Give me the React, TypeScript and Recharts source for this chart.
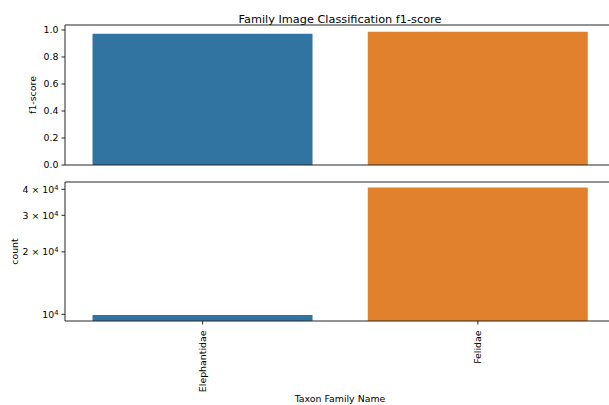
import React from 'react';
import { BarChart, Bar, XAxis, YAxis, Cell, Label, ReferenceLine } from 'recharts';

// values
const families = ['Elephantidae', 'Felidae'];
const f1Scores = [0.973, 0.987];
const counts = [9930, 40800];
const f1Ticks = [0, 0.2, 0.4, 0.6, 0.8, 1.0];
const countTicks = [10000, 20000, 30000, 40000];
const barColors = ['#3274a1', '#e1812c'];

const FONT = '"DejaVu Sans", sans-serif';
const INK = '#000';
const SPINE = '#262626';
const TICK_FS = 9.4;
const F1_MAX = 1.037;
const COUNT_DOMAIN = [9287, 43400];

const f1Data = families.map((name, i) => ({ name, value: f1Scores[i] }));
const countData = families.map((name, i) => ({ name, value: counts[i] }));

// vertical axis title, centred on the plot height
const yTitle = (text: string, x: number) => (props: any) => {
    const vb = props.viewBox || {};
    const cy = (vb.y || 0) + (vb.height || 0) / 2;
    return (
        <text x={x} y={cy} transform={`rotate(-90, ${x}, ${cy})`} textAnchor="middle" dy="0.35em"
            fontSize={TICK_FS} fill={INK} fontFamily={FONT}>{text}</text>
    );
};

const LogTick = (props: any) => {
    const { x, y, payload } = props;
    const v = payload.value as number;
    const mant = Math.round(v / 10000);
    return (
        <text x={x} y={y} textAnchor="end" dy="0.35em" fontSize={TICK_FS} fill={INK} fontFamily={FONT}>
            {mant === 1 ? '10' : `${mant} \u00d7 10`}
            <tspan dy="-0.45em" fontSize={TICK_FS * 0.72}>4</tspan>
        </text>
    );
};

const RotTick = (props: any) => {
    const { x, y, payload } = props;
    return (
        <text x={x} y={y + 3} transform={`rotate(-90, ${x}, ${y + 3})`} textAnchor="end" dy="0.35em"
            fontSize={TICK_FS} fill={INK} fontFamily={FONT}>{payload.value}</text>
    );
};

const App: React.FC = () => {
    const W = 620;
    return (
        <div style={{ position: 'fixed', left: 0, top: 0, width: 609, height: 405, overflow: 'hidden', background: '#fff', fontFamily: FONT }}>
            {/* top panel: f1-score */}
            <div style={{ position: 'absolute', left: 0, top: 0 }}>
                <BarChart width={W} height={175} data={f1Data} margin={{ top: 25, right: 4.5, bottom: 0, left: 0 }} barCategoryGap="10%">
                    <XAxis dataKey="name" height={10} tick={false} tickSize={3.5} stroke={SPINE} />
                    <YAxis width={65} domain={[0, F1_MAX]} ticks={f1Ticks} allowDataOverflow type="number"
                        tickFormatter={(v: number) => v.toFixed(1)} tickSize={3.5} tickMargin={3} stroke={SPINE}
                        tick={{ fontSize: TICK_FS, fill: INK, fontFamily: FONT }}>
                        <Label content={yTitle('f1-score', 33)} />
                    </YAxis>
                    <Bar dataKey="value" isAnimationActive={false}>
                        {f1Data.map((d, i) => <Cell key={d.name} fill={barColors[i]} />)}
                    </Bar>
                    <ReferenceLine y={F1_MAX} stroke={SPINE} strokeWidth={1} ifOverflow="visible" />
                    <text x={340} y={19} textAnchor="middle" dy="0.35em" fontSize={11.3} fill={INK} fontFamily={FONT}>
                        Family Image Classification f1-score
                    </text>
                </BarChart>
            </div>
            {/* bottom panel: counts on a log axis */}
            <div style={{ position: 'absolute', left: 0, top: 0 }}>
                <BarChart width={W} height={405} data={countData} margin={{ top: 182, right: 4.5, bottom: 0, left: 0 }} barCategoryGap="10%">
                    <XAxis dataKey="name" height={84} tick={<RotTick />} tickSize={3.5} tickMargin={3} stroke={SPINE} interval={0}>
                        <Label content={() => (
                            <text x={340} y={399} textAnchor="middle" dy="0.35em" fontSize={TICK_FS} fill={INK} fontFamily={FONT}>
                                Taxon Family Name
                            </text>
                        )} />
                    </XAxis>
                    <YAxis width={65} scale="log" type="number" domain={COUNT_DOMAIN} allowDataOverflow ticks={countTicks}
                        tick={<LogTick />} tickSize={3.5} tickMargin={3} stroke={SPINE}>
                        <Label content={yTitle('count', 15)} />
                    </YAxis>
                    <Bar dataKey="value" isAnimationActive={false}>
                        {countData.map((d, i) => <Cell key={d.name} fill={barColors[i]} />)}
                    </Bar>
                    <ReferenceLine y={COUNT_DOMAIN[1]} stroke={SPINE} strokeWidth={1} ifOverflow="visible" />
                </BarChart>
            </div>
        </div>
    );
};

export default App;
